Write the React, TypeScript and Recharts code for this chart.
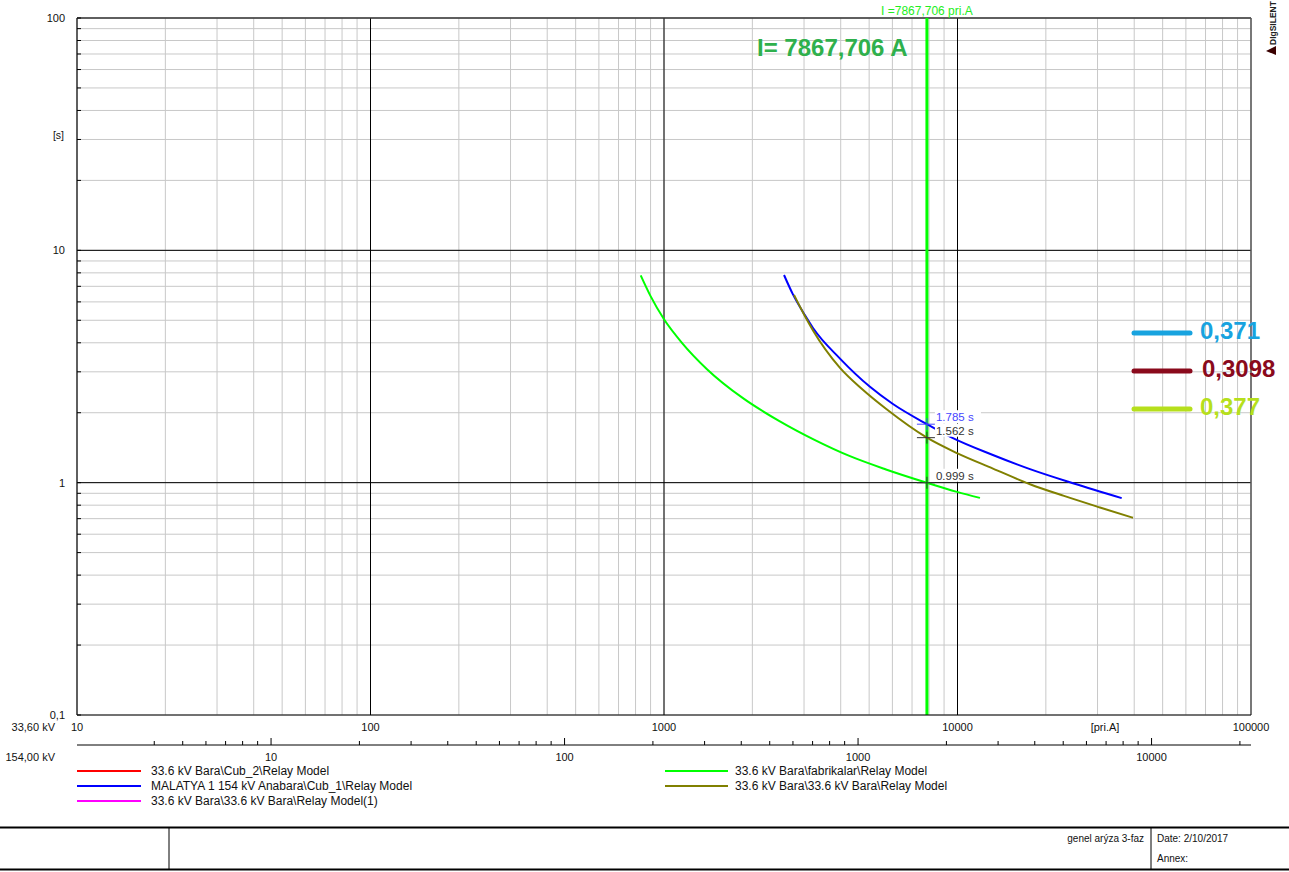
import React from 'react';
import {
  LineChart,
  Line,
  XAxis,
  YAxis,
  CartesianGrid,
  ReferenceLine,
  ReferenceDot,
} from 'recharts';

const W = 1289;
const H = 872;
const FONT = "'Liberation Sans', Arial, sans-serif";
const NARROW = "'Liberation Sans Narrow', 'Arial Narrow', 'Liberation Sans', sans-serif";

// fault current marker
const FAULT_CURRENT = 7867.706;
const KV_PRIMARY = 33.6;
const KV_SECONDARY = 154;

// axes
const X_DECADES = [10, 100, 1000, 10000, 100000];
const X_DECADE_LABELS = ['10', '100', '1000', '10000', '100000'];
const Y_DECADES = [0.1, 1, 10, 100];
const Y_DECADE_LABELS = ['0,1', '1', '10', '100'];
const SEC_DECADES = [10, 100, 1000, 10000];
const SEC_DECADE_LABELS = ['10', '100', '1000', '10000'];
const MULTIPLIERS = [1, 2, 3, 4, 5, 6, 7, 8, 9];

// 33.6 kV Bara\fabrikalar\Relay Model  (current [pri.A], time [s])
const fabrikalarI = [833, 900, 1000, 1151, 1401, 1858, 2465, 3244, 4302, 5706, 7867.706, 9961, 11930];
const fabrikalarT = [7.8, 6.35, 5.05, 4.0, 3.08, 2.31, 1.845, 1.532, 1.3, 1.14, 0.999, 0.913, 0.86];

// MALATYA 1 154 kV Anabara\Cub_1\Relay Model
const malatyaI = [2564, 2750, 3023, 3219, 3978, 5033, 6026, 7867.706, 9570, 13200, 17660, 24740, 36260];
const malatyaT = [7.83, 6.46, 5.25, 4.63, 3.42, 2.585, 2.18, 1.785, 1.562, 1.315, 1.143, 0.994, 0.858];

// 33.6 kV Bara\33.6 kV Bara\Relay Model
const baraI = [2773, 3023, 3219, 3978, 4727, 5706, 7867.706, 9961, 13210, 17660, 23060, 30580, 39630];
const baraT = [6.43, 5.2, 4.52, 3.12, 2.53, 2.08, 1.562, 1.34, 1.15, 0.985, 0.877, 0.782, 0.706];

// markers at the fault current
const markerT = [1.785, 1.562, 0.999];
const markerLabels = ['1.785 s', '1.562 s', '0.999 s'];
const markerColors = ['#4646ff', '#333333', '#333333'];

// legend
const legendLeft = [
  { name: '33.6 kV Bara\\Cub_2\\Relay Model', color: '#ff0000' },
  { name: 'MALATYA 1 154 kV Anabara\\Cub_1\\Relay Model', color: '#0000ff' },
  { name: '33.6 kV Bara\\33.6 kV Bara\\Relay Model(1)', color: '#ff00ff' },
];
const legendRight = [
  { name: '33.6 kV Bara\\fabrikalar\\Relay Model', color: '#00ff00' },
  { name: '33.6 kV Bara\\33.6 kV Bara\\Relay Model', color: '#808000' },
];

// setting notes pasted at the right
const notes = [
  { text: '0,371', color: '#18a3df' },
  { text: '0,3098', color: '#8a0a1c' },
  { text: '0,377', color: '#b6df1c' },
];

const decadeTicks = (decades: number[]) => {
  const out: number[] = [];
  decades.slice(0, -1).forEach((d) => MULTIPLIERS.forEach((m) => out.push(d * m)));
  out.push(decades[decades.length - 1]);
  return out;
};

const X_TICKS = decadeTicks(X_DECADES);
const Y_TICKS = decadeTicks(Y_DECADES);
const SEC_TICKS = [4, 5, 6, 7, 8, 9, ...decadeTicks(SEC_DECADES), 20000];

const toPoints = (xs: number[], ys: number[]) => xs.map((i, k) => ({ i, t: ys[k] }));

const renderXTick = (p: any) => {
  const k = X_DECADES.indexOf(p.payload.value);
  if (k < 0) return <g />;
  return (
    <text x={p.x} y={p.y + 12} textAnchor="middle" dominantBaseline="central" fontSize={11} fill="#111" fontFamily={FONT}>
      {X_DECADE_LABELS[k]}
    </text>
  );
};

const renderSecTick = (p: any) => {
  const k = SEC_DECADES.indexOf(p.payload.value);
  return (
    <g>
      <line x1={p.x} x2={p.x} y1={p.y} y2={p.y - (k >= 0 ? 7 : 4)} stroke="#000" />
      {k >= 0 && (
        <text x={p.x} y={p.y + 12} textAnchor="middle" dominantBaseline="central" fontSize={11} fill="#111" fontFamily={FONT}>
          {SEC_DECADE_LABELS[k]}
        </text>
      )}
    </g>
  );
};

const renderYTick = (p: any) => {
  const k = Y_DECADES.indexOf(p.payload.value);
  return (
    <g>
      <line x1={p.x} x2={p.x + 4} y1={p.y} y2={p.y} stroke="#000" />
      {k >= 0 && (
        <text x={p.x - 12} y={p.y} textAnchor="end" dominantBaseline="central" fontSize={11} fill="#111" fontFamily={FONT}>
          {Y_DECADE_LABELS[k]}
        </text>
      )}
    </g>
  );
};

const makeMarker = (k: number) => (p: any) => {
  const { cx, cy } = p;
  const c = markerColors[k];
  return (
    <g>
      <rect x={cx + 8} y={cy - 14} width={46} height={13} fill="#fff" />
      <line x1={cx - 10} x2={cx + 8} y1={cy} y2={cy} stroke={c} />
      <line x1={cx} x2={cx} y1={cy - 6} y2={cy + 6} stroke={c} />
      <text x={cx + 9} y={cy - 7} dominantBaseline="central" fontSize={11.5} fill={c} fontFamily={FONT}>
        {markerLabels[k]}
      </text>
    </g>
  );
};

const renderFaultLabel = (p: any) => (
  <g>
    <rect x={p.cx - 50} y={p.cy - 15} width={100} height={14} fill="#fff" />
    <text x={p.cx} y={p.cy - 7} textAnchor="middle" dominantBaseline="central" fontSize={12} fill="#22ee22" fontFamily={FONT}>
      I =7867,706 pri.A
    </text>
  </g>
);

export default function App() {
  const fabrikalar = toPoints(fabrikalarI, fabrikalarT);
  const malatya = toPoints(malatyaI, malatyaT);
  const bara = toPoints(baraI, baraT);

  return (
    <div style={{ position: 'fixed', left: 0, top: 0, width: W, height: H, background: '#fff', overflow: 'hidden' }}>
      <LineChart width={W} height={H} data={fabrikalar} margin={{ top: 18, right: 38, bottom: 97, left: 0 }}>
        <CartesianGrid stroke="#c8c8c8" strokeWidth={1} />
        <XAxis
          xAxisId={0}
          dataKey="i"
          type="number"
          scale="log"
          domain={[10, 100000]}
          ticks={X_TICKS}
          interval={0}
          tickSize={0}
          tickMargin={0}
          height={30}
          tickLine={false}
          axisLine={{ stroke: '#000' }}
          tick={renderXTick}
          allowDataOverflow
        />
        <XAxis
          xAxisId="kv"
          dataKey="i"
          type="number"
          scale="log"
          domain={[(10 * KV_PRIMARY) / KV_SECONDARY, (100000 * KV_PRIMARY) / KV_SECONDARY]}
          ticks={SEC_TICKS}
          interval={0}
          tickSize={0}
          tickMargin={0}
          height={30}
          tickLine={false}
          axisLine={{ stroke: '#000' }}
          tick={renderSecTick}
          allowDataOverflow
        />
        <YAxis
          dataKey="t"
          type="number"
          scale="log"
          domain={[0.1, 100]}
          ticks={Y_TICKS}
          interval={0}
          width={77}
          tickSize={0}
          tickMargin={0}
          tickLine={false}
          axisLine={{ stroke: '#333', strokeWidth: 1.5 }}
          tick={renderYTick}
          allowDataOverflow
        />

        {/* decade lines and frame */}
        {[100, 1000, 10000].map((v) => (
          <ReferenceLine key={'x' + v} x={v} stroke="#000" strokeWidth={1} />
        ))}
        {[10, 1].map((v) => (
          <ReferenceLine key={'y' + v} y={v} stroke="#000" strokeWidth={1} />
        ))}
        <ReferenceLine y={100} stroke="#333" strokeWidth={1.5} />
        <ReferenceLine x={100000} stroke="#555" strokeWidth={1.5} />
        <ReferenceLine x={FAULT_CURRENT} stroke="#00ff00" strokeWidth={3} />

        <Line data={malatya} dataKey="t" stroke="#0000ff" strokeWidth={2} dot={false} type="monotone" isAnimationActive={false} />
        <Line data={bara} dataKey="t" stroke="#808000" strokeWidth={2} dot={false} type="monotone" isAnimationActive={false} />
        <Line data={fabrikalar} dataKey="t" stroke="#00ff00" strokeWidth={2} dot={false} type="monotone" isAnimationActive={false} />

        {markerT.map((t, k) => (
          <ReferenceDot key={'m' + k} x={FAULT_CURRENT} y={t} r={1} shape={makeMarker(k)} ifOverflow="visible" />
        ))}
        <ReferenceDot x={FAULT_CURRENT} y={100} r={1} shape={renderFaultLabel} ifOverflow="visible" />
      </LineChart>

      <svg width={W} height={H} style={{ position: 'absolute', left: 0, top: 0, pointerEvents: 'none' }} fontFamily={FONT}>
        <text x={64} y={135} textAnchor="end" dominantBaseline="central" fontSize={10.5} fill="#111">[s]</text>
        <text x={55} y={727} textAnchor="end" dominantBaseline="central" fontSize={11} fill="#111">33,60 kV</text>
        <text x={55} y={757} textAnchor="end" dominantBaseline="central" fontSize={11} fill="#111">154,00 kV</text>
        <text x={1105} y={727} textAnchor="middle" dominantBaseline="central" fontSize={11} fill="#111">[pri.A]</text>

        <text x={757} y={47} dominantBaseline="central" fontSize={24} fontWeight="bold" fill="#2fb04c">
          I= 7867,706 A
        </text>

        {notes.map((n, k) => (
          <g key={n.text}>
            <line x1={1134} x2={1190} y1={333 + k * 38} y2={333 + k * 38} stroke={n.color} strokeWidth={5} strokeLinecap="round" />
            <text x={k === 1 ? 1202 : 1200} y={330 + k * 38} dominantBaseline="central" fontSize={24} fontWeight="bold" fill={n.color}>
              {n.text}
            </text>
          </g>
        ))}

        <text x={1276} y={45} transform="rotate(-90 1276 45)" fontSize={8.5} fontWeight="bold" fill="#222">DIgSILENT</text>
        <polygon points="1266,51 1276,46 1276,55" fill="#3a0000" />

        {legendLeft.map((l, k) => (
          <g key={l.name}>
            <line x1={77} x2={141} y1={771 + k * 15} y2={771 + k * 15} stroke={l.color} strokeWidth={2} />
            <text x={151} y={771 + k * 15} dominantBaseline="central" fontSize={12} fill="#111">{l.name}</text>
          </g>
        ))}
        {legendRight.map((l, k) => (
          <g key={l.name}>
            <line x1={665} x2={728} y1={771 + k * 15} y2={771 + k * 15} stroke={l.color} strokeWidth={2} />
            <text x={735} y={771 + k * 15} dominantBaseline="central" fontSize={12} fill="#111">{l.name}</text>
          </g>
        ))}

        {/* title block */}
        <line x1={0} x2={W} y1={827.5} y2={827.5} stroke="#000" strokeWidth={2} />
        <line x1={0} x2={W} y1={869.5} y2={869.5} stroke="#000" strokeWidth={2} />
        <line x1={169} x2={169} y1={828} y2={869} stroke="#000" />
        <line x1={1151} x2={1151} y1={828} y2={869} stroke="#000" />
        <text x={1144} y={838} textAnchor="end" dominantBaseline="central" fontSize={10} fill="#111" fontFamily={NARROW}>genel arýza 3-faz</text>
        <text x={1157} y={838} dominantBaseline="central" fontSize={10} fill="#111" fontFamily={NARROW}>Date: 2/10/2017</text>
        <text x={1157} y={858} dominantBaseline="central" fontSize={10} fill="#111" fontFamily={NARROW}>Annex:</text>
      </svg>
    </div>
  );
}
